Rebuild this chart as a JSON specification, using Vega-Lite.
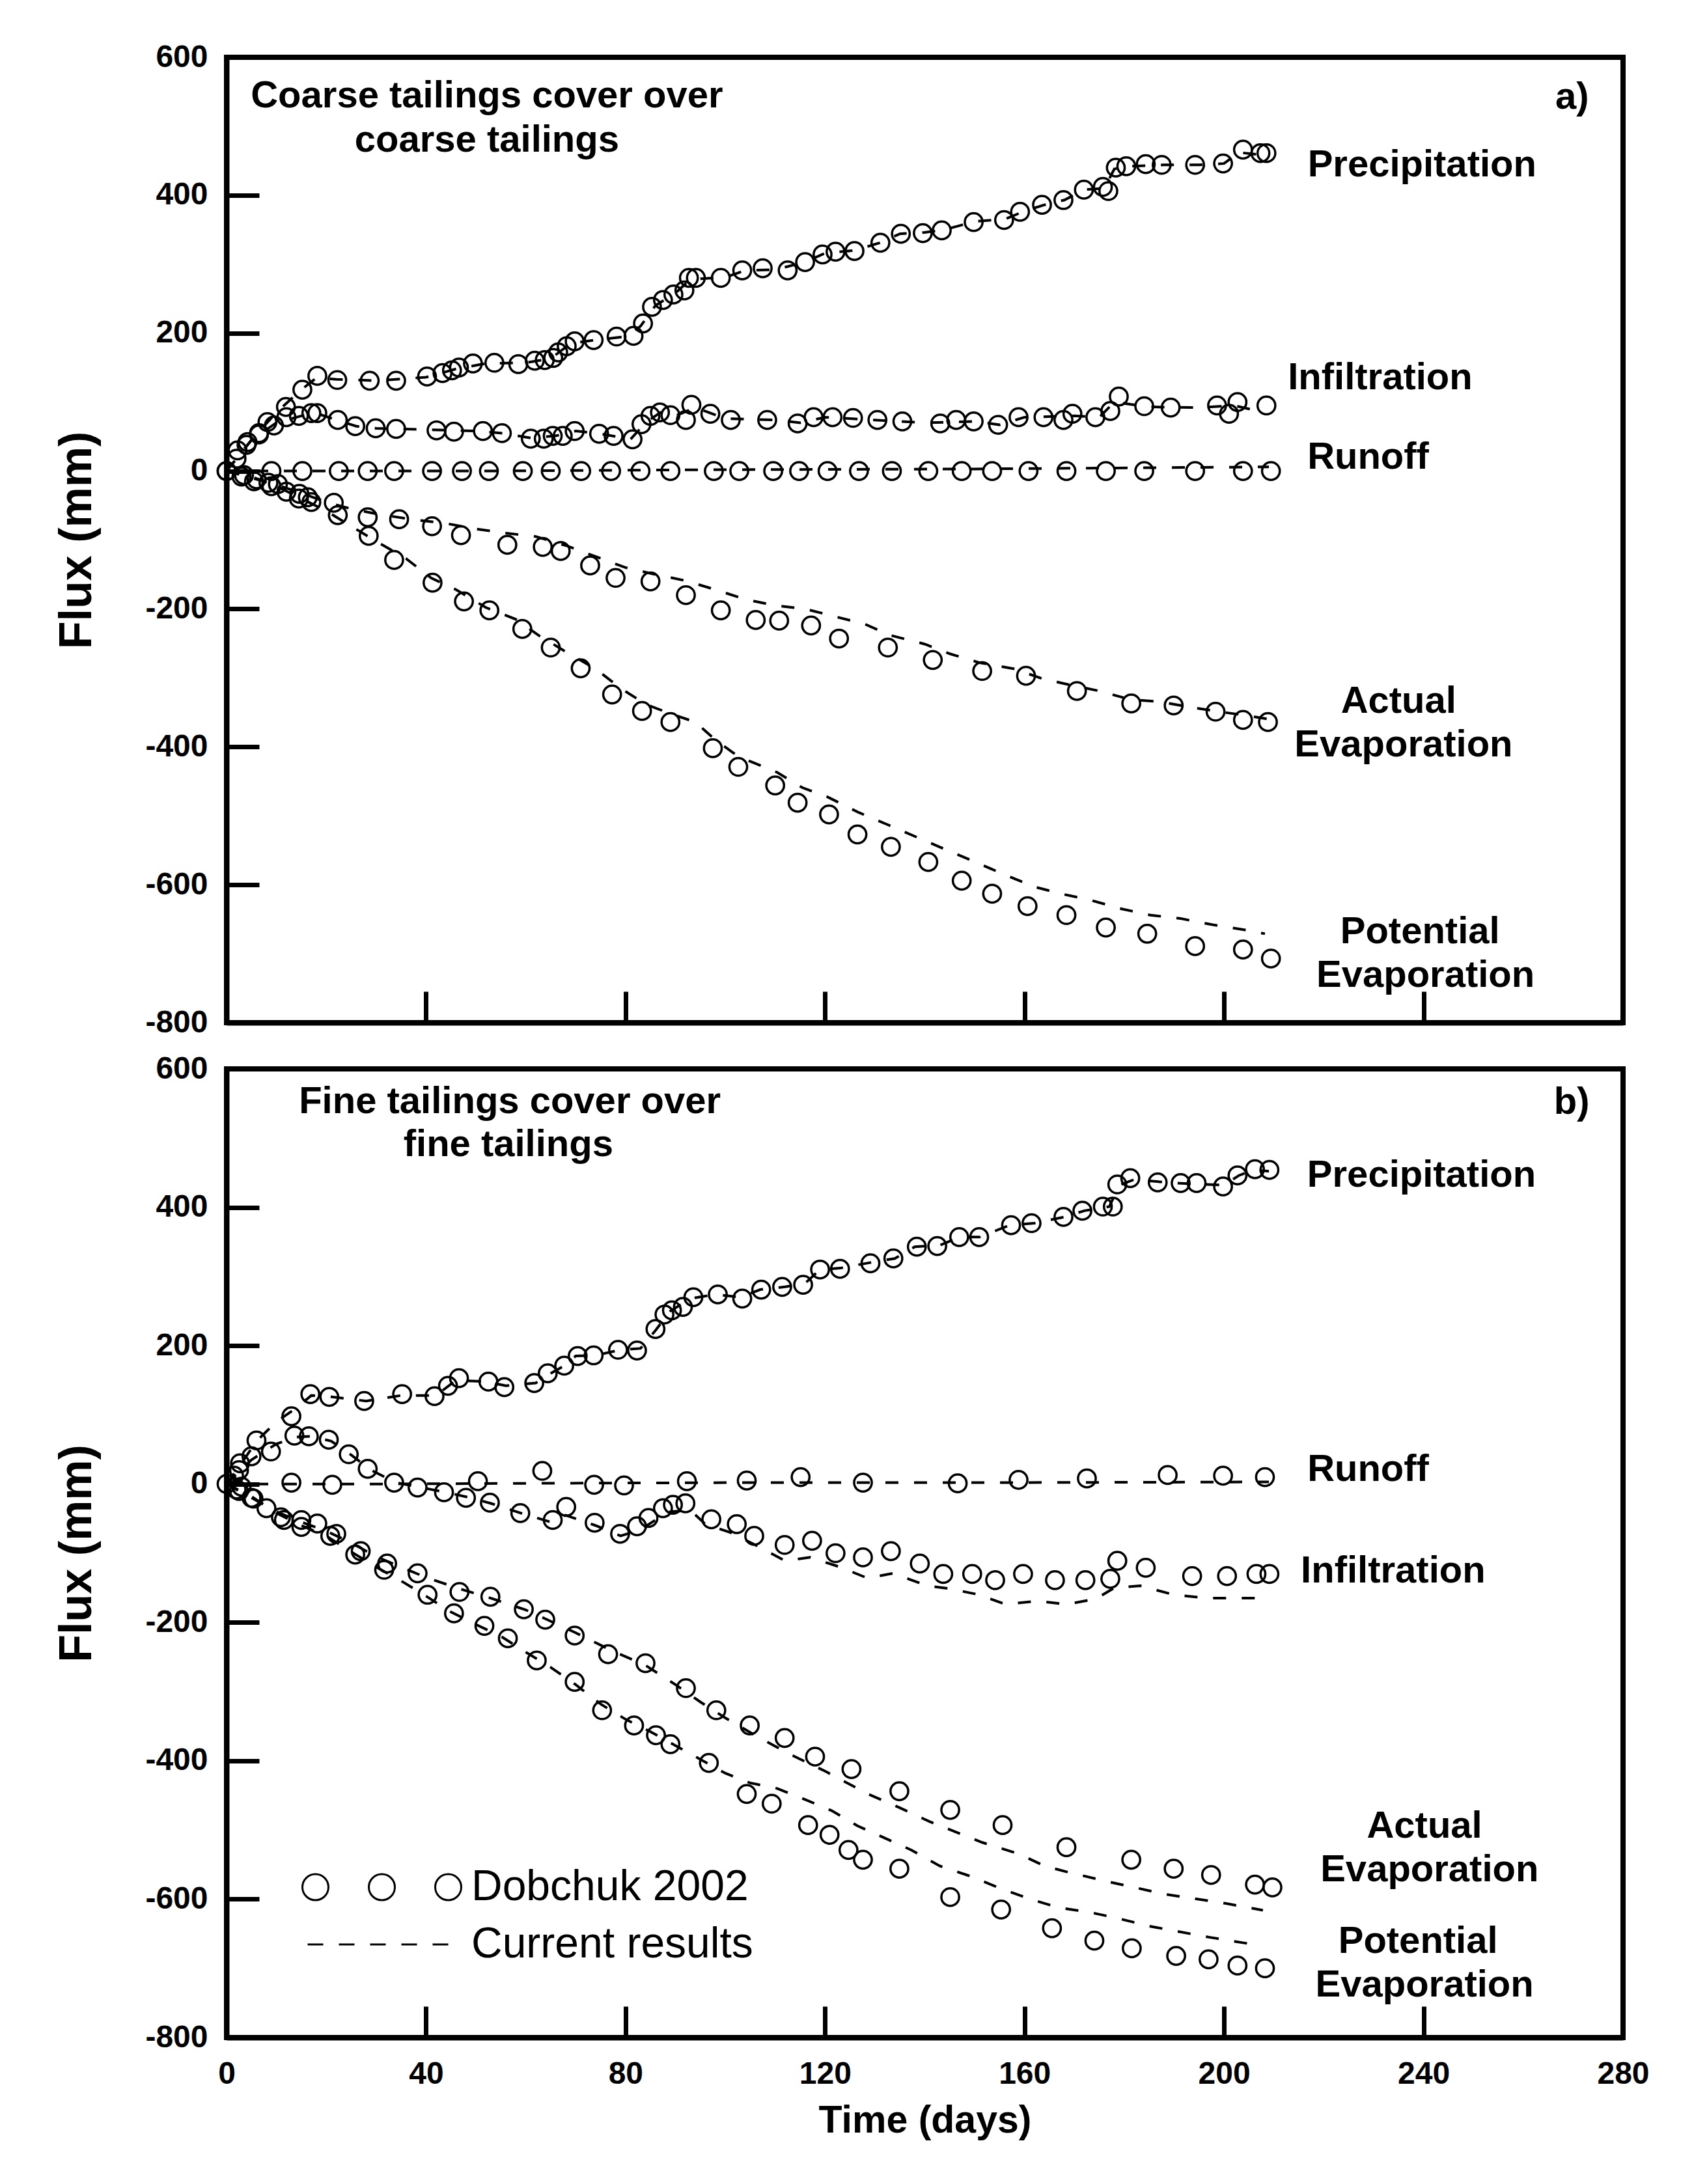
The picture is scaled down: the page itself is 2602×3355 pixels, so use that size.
{
  "$schema": "https://vega.github.io/schema/vega-lite/v6.json",
  "background": "white",
  "padding": {"left": 79, "top": 60, "right": 10, "bottom": 10},
  "spacing": 15,
  "config": {
    "view": {"stroke": "black", "strokeWidth": 8},
    "font": "Liberation Sans",
    "axis": {"grid": false, "domainColor": "black", "domainWidth": 8, "tickColor": "black", "tickWidth": 7, "labelFlush": false,
      "labelFont": "Liberation Sans", "labelFontWeight": "bold", "labelFontSize": 48, "labelColor": "black",
      "titleFont": "Liberation Sans", "titleFontWeight": "bold", "titleColor": "black"}
  },
  "datasets": {
    "obsA": [
      {"series":"Precipitation","day":0,"flux":0},{"series":"Precipitation","day":2.2,"flux":30},{"series":"Precipitation","day":4.2,"flux":42},{"series":"Precipitation","day":6.5,"flux":53},{"series":"Precipitation","day":8.2,"flux":71},{"series":"Precipitation","day":11.9,"flux":93},{"series":"Precipitation","day":15.2,"flux":118},{"series":"Precipitation","day":18.2,"flux":138},{"series":"Precipitation","day":22.2,"flux":132},{"series":"Precipitation","day":28.7,"flux":131},{"series":"Precipitation","day":34,"flux":131},{"series":"Precipitation","day":40.2,"flux":137},{"series":"Precipitation","day":43.3,"flux":142},{"series":"Precipitation","day":45.2,"flux":146},{"series":"Precipitation","day":46.6,"flux":150},{"series":"Precipitation","day":49.4,"flux":156},{"series":"Precipitation","day":53.7,"flux":157},{"series":"Precipitation","day":58.5,"flux":155},{"series":"Precipitation","day":61.8,"flux":160},{"series":"Precipitation","day":63.8,"flux":161},{"series":"Precipitation","day":65.5,"flux":164},{"series":"Precipitation","day":66.5,"flux":172},{"series":"Precipitation","day":68.2,"flux":181},{"series":"Precipitation","day":69.8,"flux":188},{"series":"Precipitation","day":73.6,"flux":190},{"series":"Precipitation","day":78.2,"flux":195},{"series":"Precipitation","day":81.6,"flux":196},{"series":"Precipitation","day":83.5,"flux":214},{"series":"Precipitation","day":85.3,"flux":238},{"series":"Precipitation","day":87.5,"flux":248},{"series":"Precipitation","day":89.6,"flux":256},{"series":"Precipitation","day":91.8,"flux":262},{"series":"Precipitation","day":92.7,"flux":280},{"series":"Precipitation","day":94.1,"flux":280},{"series":"Precipitation","day":99.1,"flux":280},{"series":"Precipitation","day":103.4,"flux":291},{"series":"Precipitation","day":107.5,"flux":294},{"series":"Precipitation","day":112.5,"flux":291},{"series":"Precipitation","day":116,"flux":303},{"series":"Precipitation","day":119.5,"flux":314},{"series":"Precipitation","day":122.1,"flux":318},{"series":"Precipitation","day":125.9,"flux":319},{"series":"Precipitation","day":131.1,"flux":331},{"series":"Precipitation","day":135.2,"flux":344},{"series":"Precipitation","day":139.6,"flux":345},{"series":"Precipitation","day":143.4,"flux":349},{"series":"Precipitation","day":149.8,"flux":361},{"series":"Precipitation","day":155.9,"flux":364},{"series":"Precipitation","day":159.1,"flux":376},{"series":"Precipitation","day":163.5,"flux":386},{"series":"Precipitation","day":167.8,"flux":393},{"series":"Precipitation","day":171.9,"flux":408},{"series":"Precipitation","day":175.7,"flux":412},{"series":"Precipitation","day":176.8,"flux":406},{"series":"Precipitation","day":178.3,"flux":440},{"series":"Precipitation","day":180.4,"flux":442},{"series":"Precipitation","day":184.3,"flux":445},{"series":"Precipitation","day":187.5,"flux":444},{"series":"Precipitation","day":194.2,"flux":444},{"series":"Precipitation","day":199.8,"flux":446},{"series":"Precipitation","day":203.8,"flux":466},{"series":"Precipitation","day":207.3,"flux":461},{"series":"Precipitation","day":208.5,"flux":461},
      {"series":"Infiltration","day":2,"flux":18},{"series":"Infiltration","day":4,"flux":38},{"series":"Infiltration","day":6.5,"flux":55},{"series":"Infiltration","day":9.5,"flux":66},{"series":"Infiltration","day":12,"flux":78},{"series":"Infiltration","day":14.5,"flux":80},{"series":"Infiltration","day":17,"flux":84},{"series":"Infiltration","day":18.2,"flux":84},{"series":"Infiltration","day":22.3,"flux":74},{"series":"Infiltration","day":25.8,"flux":65},{"series":"Infiltration","day":29.9,"flux":62},{"series":"Infiltration","day":34,"flux":61},{"series":"Infiltration","day":42.1,"flux":59},{"series":"Infiltration","day":45.6,"flux":57},{"series":"Infiltration","day":51.4,"flux":58},{"series":"Infiltration","day":55.2,"flux":55},{"series":"Infiltration","day":61,"flux":47},{"series":"Infiltration","day":63.6,"flux":47},{"series":"Infiltration","day":65.4,"flux":51},{"series":"Infiltration","day":67.4,"flux":51},{"series":"Infiltration","day":69.8,"flux":58},{"series":"Infiltration","day":74.7,"flux":54},{"series":"Infiltration","day":77.6,"flux":51},{"series":"Infiltration","day":81.4,"flux":46},{"series":"Infiltration","day":83.2,"flux":68},{"series":"Infiltration","day":85,"flux":80},{"series":"Infiltration","day":86.9,"flux":85},{"series":"Infiltration","day":89,"flux":81},{"series":"Infiltration","day":92.1,"flux":74},{"series":"Infiltration","day":93.2,"flux":96},{"series":"Infiltration","day":97,"flux":83},{"series":"Infiltration","day":101.1,"flux":74},{"series":"Infiltration","day":108.4,"flux":74},{"series":"Infiltration","day":114.5,"flux":69},{"series":"Infiltration","day":117.7,"flux":78},{"series":"Infiltration","day":121.5,"flux":78},{"series":"Infiltration","day":125.6,"flux":77},{"series":"Infiltration","day":130.5,"flux":74},{"series":"Infiltration","day":135.5,"flux":72},{"series":"Infiltration","day":143.1,"flux":69},{"series":"Infiltration","day":146.3,"flux":74},{"series":"Infiltration","day":149.8,"flux":72},{"series":"Infiltration","day":154.7,"flux":67},{"series":"Infiltration","day":158.8,"flux":78},{"series":"Infiltration","day":163.8,"flux":78},{"series":"Infiltration","day":167.8,"flux":74},{"series":"Infiltration","day":169.6,"flux":83},{"series":"Infiltration","day":174.2,"flux":78},{"series":"Infiltration","day":177.2,"flux":87},{"series":"Infiltration","day":178.9,"flux":108},{"series":"Infiltration","day":184,"flux":94},{"series":"Infiltration","day":189.3,"flux":92},{"series":"Infiltration","day":198.6,"flux":95},{"series":"Infiltration","day":201,"flux":83},{"series":"Infiltration","day":202.7,"flux":100},{"series":"Infiltration","day":208.5,"flux":95},
      {"series":"Runoff","day":0,"flux":0},{"series":"Runoff","day":9,"flux":0},{"series":"Runoff","day":15.2,"flux":0},{"series":"Runoff","day":22.5,"flux":0},{"series":"Runoff","day":28.3,"flux":0},{"series":"Runoff","day":33.6,"flux":0},{"series":"Runoff","day":41.2,"flux":0},{"series":"Runoff","day":47.2,"flux":0},{"series":"Runoff","day":52.6,"flux":0},{"series":"Runoff","day":59.4,"flux":0},{"series":"Runoff","day":65,"flux":0},{"series":"Runoff","day":71.1,"flux":0},{"series":"Runoff","day":77.1,"flux":0},{"series":"Runoff","day":83,"flux":0},{"series":"Runoff","day":89,"flux":0},{"series":"Runoff","day":97.7,"flux":0},{"series":"Runoff","day":102.8,"flux":0},{"series":"Runoff","day":109.6,"flux":0},{"series":"Runoff","day":114.8,"flux":0},{"series":"Runoff","day":120.5,"flux":0},{"series":"Runoff","day":126.8,"flux":0},{"series":"Runoff","day":133.4,"flux":0},{"series":"Runoff","day":140.7,"flux":0},{"series":"Runoff","day":147.4,"flux":0},{"series":"Runoff","day":153.5,"flux":0},{"series":"Runoff","day":160.8,"flux":0},{"series":"Runoff","day":168.4,"flux":0},{"series":"Runoff","day":176.3,"flux":0},{"series":"Runoff","day":184,"flux":0},{"series":"Runoff","day":194.2,"flux":0},{"series":"Runoff","day":203.8,"flux":0},{"series":"Runoff","day":209.4,"flux":0},
      {"series":"Actual Evaporation","day":3.5,"flux":-6},{"series":"Actual Evaporation","day":6,"flux":-12},{"series":"Actual Evaporation","day":8.4,"flux":-17},{"series":"Actual Evaporation","day":10.3,"flux":-19},{"series":"Actual Evaporation","day":14.6,"flux":-33},{"series":"Actual Evaporation","day":16.3,"flux":-38},{"series":"Actual Evaporation","day":21.5,"flux":-46},{"series":"Actual Evaporation","day":28.3,"flux":-67},{"series":"Actual Evaporation","day":34.6,"flux":-70},{"series":"Actual Evaporation","day":41.2,"flux":-80},{"series":"Actual Evaporation","day":47,"flux":-93},{"series":"Actual Evaporation","day":56.3,"flux":-107},{"series":"Actual Evaporation","day":63.4,"flux":-110},{"series":"Actual Evaporation","day":67,"flux":-116},{"series":"Actual Evaporation","day":72.9,"flux":-137},{"series":"Actual Evaporation","day":78,"flux":-155},{"series":"Actual Evaporation","day":85,"flux":-160},{"series":"Actual Evaporation","day":92.1,"flux":-180},{"series":"Actual Evaporation","day":99.1,"flux":-202},{"series":"Actual Evaporation","day":106.1,"flux":-216},{"series":"Actual Evaporation","day":110.8,"flux":-217},{"series":"Actual Evaporation","day":117.2,"flux":-224},{"series":"Actual Evaporation","day":122.8,"flux":-243},{"series":"Actual Evaporation","day":132.6,"flux":-256},{"series":"Actual Evaporation","day":141.6,"flux":-274},{"series":"Actual Evaporation","day":151.5,"flux":-290},{"series":"Actual Evaporation","day":160.3,"flux":-297},{"series":"Actual Evaporation","day":170.5,"flux":-319},{"series":"Actual Evaporation","day":181.4,"flux":-337},{"series":"Actual Evaporation","day":189.9,"flux":-340},{"series":"Actual Evaporation","day":198.3,"flux":-349},{"series":"Actual Evaporation","day":203.8,"flux":-361},{"series":"Actual Evaporation","day":208.8,"flux":-364},
      {"series":"Potential Evaporation","day":3,"flux":-8},{"series":"Potential Evaporation","day":5.5,"flux":-15},{"series":"Potential Evaporation","day":9,"flux":-22},{"series":"Potential Evaporation","day":12,"flux":-30},{"series":"Potential Evaporation","day":14.5,"flux":-40},{"series":"Potential Evaporation","day":17,"flux":-45},{"series":"Potential Evaporation","day":22.3,"flux":-64},{"series":"Potential Evaporation","day":28.5,"flux":-94},{"series":"Potential Evaporation","day":33.6,"flux":-129},{"series":"Potential Evaporation","day":41.3,"flux":-162},{"series":"Potential Evaporation","day":47.6,"flux":-189},{"series":"Potential Evaporation","day":52.7,"flux":-202},{"series":"Potential Evaporation","day":59.3,"flux":-229},{"series":"Potential Evaporation","day":65,"flux":-256},{"series":"Potential Evaporation","day":71,"flux":-286},{"series":"Potential Evaporation","day":77.3,"flux":-324},{"series":"Potential Evaporation","day":83.3,"flux":-348},{"series":"Potential Evaporation","day":89,"flux":-364},{"series":"Potential Evaporation","day":97.5,"flux":-402},{"series":"Potential Evaporation","day":102.6,"flux":-429},{"series":"Potential Evaporation","day":110,"flux":-456},{"series":"Potential Evaporation","day":114.5,"flux":-481},{"series":"Potential Evaporation","day":120.8,"flux":-498},{"series":"Potential Evaporation","day":126.5,"flux":-527},{"series":"Potential Evaporation","day":133.2,"flux":-545},{"series":"Potential Evaporation","day":140.7,"flux":-567},{"series":"Potential Evaporation","day":147.4,"flux":-594},{"series":"Potential Evaporation","day":153.5,"flux":-613},{"series":"Potential Evaporation","day":160.6,"flux":-631},{"series":"Potential Evaporation","day":168.4,"flux":-644},{"series":"Potential Evaporation","day":176.3,"flux":-662},{"series":"Potential Evaporation","day":184.6,"flux":-671},{"series":"Potential Evaporation","day":194.2,"flux":-689},{"series":"Potential Evaporation","day":203.8,"flux":-694},{"series":"Potential Evaporation","day":209.4,"flux":-707}
    ],
    "simA": [
      {"series":"Precipitation","day":0,"flux":0},{"series":"Precipitation","day":5,"flux":45},{"series":"Precipitation","day":10,"flux":85},{"series":"Precipitation","day":15,"flux":118},{"series":"Precipitation","day":18,"flux":135},{"series":"Precipitation","day":22,"flux":133},{"series":"Precipitation","day":30,"flux":131},{"series":"Precipitation","day":40,"flux":136},{"series":"Precipitation","day":46,"flux":148},{"series":"Precipitation","day":52,"flux":156},{"series":"Precipitation","day":60,"flux":157},{"series":"Precipitation","day":65,"flux":163},{"series":"Precipitation","day":69,"flux":185},{"series":"Precipitation","day":74,"flux":190},{"series":"Precipitation","day":80,"flux":195},{"series":"Precipitation","day":83,"flux":210},{"series":"Precipitation","day":86,"flux":240},{"series":"Precipitation","day":90,"flux":258},{"series":"Precipitation","day":93,"flux":278},{"series":"Precipitation","day":100,"flux":281},{"series":"Precipitation","day":104,"flux":291},{"series":"Precipitation","day":110,"flux":292},{"series":"Precipitation","day":116,"flux":303},{"series":"Precipitation","day":120,"flux":316},{"series":"Precipitation","day":126,"flux":320},{"series":"Precipitation","day":131,"flux":331},{"series":"Precipitation","day":135,"flux":344},{"series":"Precipitation","day":140,"flux":346},{"series":"Precipitation","day":144,"flux":350},{"series":"Precipitation","day":150,"flux":362},{"series":"Precipitation","day":156,"flux":365},{"series":"Precipitation","day":160,"flux":377},{"series":"Precipitation","day":164,"flux":386},{"series":"Precipitation","day":168,"flux":393},{"series":"Precipitation","day":172,"flux":408},{"series":"Precipitation","day":176,"flux":410},{"series":"Precipitation","day":178,"flux":438},{"series":"Precipitation","day":181,"flux":442},{"series":"Precipitation","day":188,"flux":444},{"series":"Precipitation","day":195,"flux":444},{"series":"Precipitation","day":200,"flux":446},{"series":"Precipitation","day":203,"flux":462},{"series":"Precipitation","day":208,"flux":458},
      {"series":"Infiltration","day":0,"flux":0},{"series":"Infiltration","day":5,"flux":45},{"series":"Infiltration","day":10,"flux":70},{"series":"Infiltration","day":15,"flux":80},{"series":"Infiltration","day":18,"flux":84},{"series":"Infiltration","day":22,"flux":74},{"series":"Infiltration","day":26,"flux":65},{"series":"Infiltration","day":30,"flux":62},{"series":"Infiltration","day":40,"flux":60},{"series":"Infiltration","day":50,"flux":58},{"series":"Infiltration","day":55,"flux":55},{"series":"Infiltration","day":61,"flux":48},{"series":"Infiltration","day":66,"flux":51},{"series":"Infiltration","day":70,"flux":58},{"series":"Infiltration","day":75,"flux":54},{"series":"Infiltration","day":81,"flux":46},{"series":"Infiltration","day":84,"flux":70},{"series":"Infiltration","day":87,"flux":85},{"series":"Infiltration","day":90,"flux":80},{"series":"Infiltration","day":94,"flux":92},{"series":"Infiltration","day":100,"flux":76},{"series":"Infiltration","day":110,"flux":74},{"series":"Infiltration","day":115,"flux":70},{"series":"Infiltration","day":120,"flux":78},{"series":"Infiltration","day":130,"flux":74},{"series":"Infiltration","day":140,"flux":70},{"series":"Infiltration","day":150,"flux":72},{"series":"Infiltration","day":155,"flux":67},{"series":"Infiltration","day":160,"flux":78},{"series":"Infiltration","day":170,"flux":80},{"series":"Infiltration","day":175,"flux":78},{"series":"Infiltration","day":178,"flux":100},{"series":"Infiltration","day":185,"flux":93},{"series":"Infiltration","day":195,"flux":92},{"series":"Infiltration","day":202,"flux":95},{"series":"Infiltration","day":208,"flux":85},
      {"series":"Runoff","day":0,"flux":0},{"series":"Runoff","day":50,"flux":0},{"series":"Runoff","day":100,"flux":2},{"series":"Runoff","day":150,"flux":3},{"series":"Runoff","day":209,"flux":6},
      {"series":"Actual Evaporation","day":0,"flux":0},{"series":"Actual Evaporation","day":5,"flux":-10},{"series":"Actual Evaporation","day":10,"flux":-20},{"series":"Actual Evaporation","day":15,"flux":-32},{"series":"Actual Evaporation","day":20,"flux":-45},{"series":"Actual Evaporation","day":25,"flux":-55},{"series":"Actual Evaporation","day":30,"flux":-62},{"series":"Actual Evaporation","day":37,"flux":-70},{"series":"Actual Evaporation","day":44,"flux":-76},{"series":"Actual Evaporation","day":50,"flux":-84},{"series":"Actual Evaporation","day":56,"flux":-90},{"series":"Actual Evaporation","day":62,"flux":-95},{"series":"Actual Evaporation","day":68,"flux":-108},{"series":"Actual Evaporation","day":74,"flux":-124},{"series":"Actual Evaporation","day":80,"flux":-140},{"series":"Actual Evaporation","day":86,"flux":-150},{"series":"Actual Evaporation","day":92,"flux":-159},{"series":"Actual Evaporation","day":98,"flux":-172},{"series":"Actual Evaporation","day":104,"flux":-186},{"series":"Actual Evaporation","day":110,"flux":-195},{"series":"Actual Evaporation","day":116,"flux":-200},{"series":"Actual Evaporation","day":122,"flux":-211},{"series":"Actual Evaporation","day":128,"flux":-222},{"series":"Actual Evaporation","day":133,"flux":-238},{"series":"Actual Evaporation","day":140,"flux":-251},{"series":"Actual Evaporation","day":145,"flux":-265},{"series":"Actual Evaporation","day":151,"flux":-278},{"series":"Actual Evaporation","day":158,"flux":-287},{"series":"Actual Evaporation","day":163.5,"flux":-301},{"series":"Actual Evaporation","day":169,"flux":-310},{"series":"Actual Evaporation","day":175,"flux":-319},{"series":"Actual Evaporation","day":181,"flux":-331},{"series":"Actual Evaporation","day":187.5,"flux":-335},{"series":"Actual Evaporation","day":193.6,"flux":-343},{"series":"Actual Evaporation","day":200,"flux":-350},{"series":"Actual Evaporation","day":205,"flux":-355},{"series":"Actual Evaporation","day":209,"flux":-360},
      {"series":"Potential Evaporation","day":0,"flux":0},{"series":"Potential Evaporation","day":5,"flux":-8},{"series":"Potential Evaporation","day":10,"flux":-22},{"series":"Potential Evaporation","day":15,"flux":-40},{"series":"Potential Evaporation","day":20,"flux":-58},{"series":"Potential Evaporation","day":25,"flux":-80},{"series":"Potential Evaporation","day":30,"flux":-102},{"series":"Potential Evaporation","day":36,"flux":-127},{"series":"Potential Evaporation","day":41,"flux":-155},{"series":"Potential Evaporation","day":46,"flux":-172},{"series":"Potential Evaporation","day":52,"flux":-198},{"series":"Potential Evaporation","day":58,"flux":-215},{"series":"Potential Evaporation","day":62.5,"flux":-238},{"series":"Potential Evaporation","day":68,"flux":-262},{"series":"Potential Evaporation","day":74,"flux":-287},{"series":"Potential Evaporation","day":79,"flux":-315},{"series":"Potential Evaporation","day":84,"flux":-338},{"series":"Potential Evaporation","day":89,"flux":-352},{"series":"Potential Evaporation","day":94,"flux":-364},{"series":"Potential Evaporation","day":98,"flux":-390},{"series":"Potential Evaporation","day":102.6,"flux":-414},{"series":"Potential Evaporation","day":110.4,"flux":-437},{"series":"Potential Evaporation","day":115.4,"flux":-459},{"series":"Potential Evaporation","day":120.6,"flux":-473},{"series":"Potential Evaporation","day":126.7,"flux":-495},{"series":"Potential Evaporation","day":132.6,"flux":-513},{"series":"Potential Evaporation","day":138.4,"flux":-531},{"series":"Potential Evaporation","day":144.2,"flux":-549},{"series":"Potential Evaporation","day":150.1,"flux":-567},{"series":"Potential Evaporation","day":155.9,"flux":-585},{"series":"Potential Evaporation","day":162,"flux":-603},{"series":"Potential Evaporation","day":167.3,"flux":-613},{"series":"Potential Evaporation","day":173.1,"flux":-622},{"series":"Potential Evaporation","day":179.5,"flux":-635},{"series":"Potential Evaporation","day":185.2,"flux":-644},{"series":"Potential Evaporation","day":191.3,"flux":-649},{"series":"Potential Evaporation","day":197.7,"flux":-658},{"series":"Potential Evaporation","day":203.8,"flux":-665},{"series":"Potential Evaporation","day":208.2,"flux":-671}
    ],
    "obsB": [
      {"series":"Precipitation","day":0,"flux":0},{"series":"Precipitation","day":1.5,"flux":12},{"series":"Precipitation","day":2.7,"flux":30},{"series":"Precipitation","day":6,"flux":63},{"series":"Precipitation","day":13,"flux":98},{"series":"Precipitation","day":16.8,"flux":130},{"series":"Precipitation","day":20.6,"flux":126},{"series":"Precipitation","day":27.6,"flux":120},{"series":"Precipitation","day":35.2,"flux":130},{"series":"Precipitation","day":41.7,"flux":127},{"series":"Precipitation","day":44.4,"flux":142},{"series":"Precipitation","day":46.6,"flux":153},{"series":"Precipitation","day":52.5,"flux":148},{"series":"Precipitation","day":55.7,"flux":140},{"series":"Precipitation","day":61.7,"flux":146},{"series":"Precipitation","day":64.4,"flux":160},{"series":"Precipitation","day":67.7,"flux":171},{"series":"Precipitation","day":70.4,"flux":185},{"series":"Precipitation","day":73.6,"flux":186},{"series":"Precipitation","day":78.5,"flux":194},{"series":"Precipitation","day":82.3,"flux":193},{"series":"Precipitation","day":86,"flux":224},{"series":"Precipitation","day":87.8,"flux":245},{"series":"Precipitation","day":89.3,"flux":251},{"series":"Precipitation","day":91.5,"flux":256},{"series":"Precipitation","day":93.6,"flux":270},{"series":"Precipitation","day":98.5,"flux":274},{"series":"Precipitation","day":103.4,"flux":268},{"series":"Precipitation","day":107.2,"flux":281},{"series":"Precipitation","day":111.4,"flux":285},{"series":"Precipitation","day":115.6,"flux":288},{"series":"Precipitation","day":119,"flux":310},{"series":"Precipitation","day":123,"flux":311},{"series":"Precipitation","day":129.1,"flux":319},{"series":"Precipitation","day":133.7,"flux":326},{"series":"Precipitation","day":138.4,"flux":343},{"series":"Precipitation","day":142.5,"flux":344},{"series":"Precipitation","day":146.9,"flux":357},{"series":"Precipitation","day":150.9,"flux":357},{"series":"Precipitation","day":157.3,"flux":374},{"series":"Precipitation","day":161.4,"flux":377},{"series":"Precipitation","day":167.8,"flux":386},{"series":"Precipitation","day":171.6,"flux":395},{"series":"Precipitation","day":175.7,"flux":401},{"series":"Precipitation","day":177.7,"flux":401},{"series":"Precipitation","day":178.6,"flux":433},{"series":"Precipitation","day":181.2,"flux":442},{"series":"Precipitation","day":186.7,"flux":436},{"series":"Precipitation","day":191.3,"flux":435},{"series":"Precipitation","day":194.5,"flux":435},{"series":"Precipitation","day":199.8,"flux":430},{"series":"Precipitation","day":202.7,"flux":446},{"series":"Precipitation","day":206.2,"flux":455},{"series":"Precipitation","day":209.1,"flux":454},
      {"series":"Runoff","day":3,"flux":-4},{"series":"Runoff","day":13,"flux":2},{"series":"Runoff","day":21.2,"flux":-1},{"series":"Runoff","day":50.4,"flux":4},{"series":"Runoff","day":63.3,"flux":19},{"series":"Runoff","day":73.7,"flux":-1},{"series":"Runoff","day":79.7,"flux":-2},{"series":"Runoff","day":92.3,"flux":4},{"series":"Runoff","day":104.3,"flux":5},{"series":"Runoff","day":115.1,"flux":10},{"series":"Runoff","day":127.6,"flux":2},{"series":"Runoff","day":146.6,"flux":1},{"series":"Runoff","day":158.8,"flux":6},{"series":"Runoff","day":172.5,"flux":8},{"series":"Runoff","day":188.7,"flux":13},{"series":"Runoff","day":199.8,"flux":12},{"series":"Runoff","day":208.2,"flux":10},
      {"series":"Infiltration","day":2.5,"flux":20},{"series":"Infiltration","day":5,"flux":40},{"series":"Infiltration","day":8.9,"flux":47},{"series":"Infiltration","day":13.6,"flux":70},{"series":"Infiltration","day":16.5,"flux":69},{"series":"Infiltration","day":20.5,"flux":64},{"series":"Infiltration","day":24.5,"flux":43},{"series":"Infiltration","day":28.3,"flux":22},{"series":"Infiltration","day":33.6,"flux":2},{"series":"Infiltration","day":38.3,"flux":-5},{"series":"Infiltration","day":43.6,"flux":-12},{"series":"Infiltration","day":48,"flux":-20},{"series":"Infiltration","day":52.8,"flux":-27},{"series":"Infiltration","day":58.9,"flux":-42},{"series":"Infiltration","day":65.4,"flux":-52},{"series":"Infiltration","day":68.1,"flux":-33},{"series":"Infiltration","day":73.8,"flux":-56},{"series":"Infiltration","day":78.9,"flux":-72},{"series":"Infiltration","day":82.3,"flux":-61},{"series":"Infiltration","day":84.6,"flux":-49},{"series":"Infiltration","day":87.5,"flux":-35},{"series":"Infiltration","day":89.5,"flux":-30},{"series":"Infiltration","day":92,"flux":-28},{"series":"Infiltration","day":97.2,"flux":-51},{"series":"Infiltration","day":102.3,"flux":-58},{"series":"Infiltration","day":105.8,"flux":-75},{"series":"Infiltration","day":111.9,"flux":-88},{"series":"Infiltration","day":117.4,"flux":-82},{"series":"Infiltration","day":122.1,"flux":-100},{"series":"Infiltration","day":127.6,"flux":-106},{"series":"Infiltration","day":133.2,"flux":-97},{"series":"Infiltration","day":139,"flux":-115},{"series":"Infiltration","day":143.7,"flux":-130},{"series":"Infiltration","day":149.5,"flux":-130},{"series":"Infiltration","day":154.1,"flux":-139},{"series":"Infiltration","day":159.7,"flux":-130},{"series":"Infiltration","day":166.1,"flux":-139},{"series":"Infiltration","day":172.2,"flux":-139},{"series":"Infiltration","day":177.2,"flux":-137},{"series":"Infiltration","day":178.6,"flux":-111},{"series":"Infiltration","day":184.3,"flux":-121},{"series":"Infiltration","day":193.6,"flux":-133},{"series":"Infiltration","day":200.6,"flux":-133},{"series":"Infiltration","day":206.5,"flux":-130},{"series":"Infiltration","day":209.1,"flux":-130},
      {"series":"Actual Evaporation","day":2.5,"flux":-10},{"series":"Actual Evaporation","day":5,"flux":-20},{"series":"Actual Evaporation","day":8,"flux":-35},{"series":"Actual Evaporation","day":10.9,"flux":-48},{"series":"Actual Evaporation","day":15,"flux":-52},{"series":"Actual Evaporation","day":18.2,"flux":-57},{"series":"Actual Evaporation","day":22,"flux":-72},{"series":"Actual Evaporation","day":26.9,"flux":-97},{"series":"Actual Evaporation","day":32.2,"flux":-115},{"series":"Actual Evaporation","day":38.3,"flux":-129},{"series":"Actual Evaporation","day":46.7,"flux":-156},{"series":"Actual Evaporation","day":52.9,"flux":-163},{"series":"Actual Evaporation","day":59.6,"flux":-181},{"series":"Actual Evaporation","day":63.9,"flux":-196},{"series":"Actual Evaporation","day":69.8,"flux":-219},{"series":"Actual Evaporation","day":76.5,"flux":-246},{"series":"Actual Evaporation","day":84,"flux":-259},{"series":"Actual Evaporation","day":92.1,"flux":-295},{"series":"Actual Evaporation","day":98.2,"flux":-327},{"series":"Actual Evaporation","day":104.9,"flux":-349},{"series":"Actual Evaporation","day":111.9,"flux":-367},{"series":"Actual Evaporation","day":118,"flux":-394},{"series":"Actual Evaporation","day":125.3,"flux":-412},{"series":"Actual Evaporation","day":134.9,"flux":-444},{"series":"Actual Evaporation","day":145.1,"flux":-471},{"series":"Actual Evaporation","day":155.6,"flux":-493},{"series":"Actual Evaporation","day":168.4,"flux":-525},{"series":"Actual Evaporation","day":181.4,"flux":-543},{"series":"Actual Evaporation","day":189.9,"flux":-556},{"series":"Actual Evaporation","day":197.4,"flux":-565},{"series":"Actual Evaporation","day":206.2,"flux":-579},{"series":"Actual Evaporation","day":209.7,"flux":-583},
      {"series":"Potential Evaporation","day":2,"flux":-8},{"series":"Potential Evaporation","day":5.4,"flux":-21},{"series":"Potential Evaporation","day":11.5,"flux":-52},{"series":"Potential Evaporation","day":15,"flux":-62},{"series":"Potential Evaporation","day":20.8,"flux":-75},{"series":"Potential Evaporation","day":25.8,"flux":-102},{"series":"Potential Evaporation","day":31.6,"flux":-124},{"series":"Potential Evaporation","day":40.3,"flux":-160},{"series":"Potential Evaporation","day":45.6,"flux":-187},{"series":"Potential Evaporation","day":51.7,"flux":-205},{"series":"Potential Evaporation","day":56.4,"flux":-223},{"series":"Potential Evaporation","day":62.2,"flux":-255},{"series":"Potential Evaporation","day":69.8,"flux":-286},{"series":"Potential Evaporation","day":75.3,"flux":-327},{"series":"Potential Evaporation","day":81.7,"flux":-349},{"series":"Potential Evaporation","day":86.1,"flux":-363},{"series":"Potential Evaporation","day":89,"flux":-376},{"series":"Potential Evaporation","day":96.7,"flux":-403},{"series":"Potential Evaporation","day":104.3,"flux":-448},{"series":"Potential Evaporation","day":109.3,"flux":-462},{"series":"Potential Evaporation","day":116.6,"flux":-493},{"series":"Potential Evaporation","day":120.9,"flux":-507},{"series":"Potential Evaporation","day":124.7,"flux":-529},{"series":"Potential Evaporation","day":127.6,"flux":-543},{"series":"Potential Evaporation","day":134.9,"flux":-556},{"series":"Potential Evaporation","day":145.1,"flux":-597},{"series":"Potential Evaporation","day":155.3,"flux":-615},{"series":"Potential Evaporation","day":165.5,"flux":-642},{"series":"Potential Evaporation","day":174,"flux":-660},{"series":"Potential Evaporation","day":181.5,"flux":-671},{"series":"Potential Evaporation","day":190.4,"flux":-682},{"series":"Potential Evaporation","day":196.9,"flux":-687},{"series":"Potential Evaporation","day":202.7,"flux":-696},{"series":"Potential Evaporation","day":208.2,"flux":-700}
    ],
    "simB": [
      {"series":"Precipitation","day":0,"flux":0},{"series":"Precipitation","day":3,"flux":30},{"series":"Precipitation","day":6,"flux":62},{"series":"Precipitation","day":10,"flux":90},{"series":"Precipitation","day":14,"flux":110},{"series":"Precipitation","day":17,"flux":128},{"series":"Precipitation","day":21,"flux":126},{"series":"Precipitation","day":28,"flux":120},{"series":"Precipitation","day":35,"flux":128},{"series":"Precipitation","day":42,"flux":128},{"series":"Precipitation","day":46,"flux":150},{"series":"Precipitation","day":52,"flux":148},{"series":"Precipitation","day":56,"flux":142},{"series":"Precipitation","day":62,"flux":146},{"series":"Precipitation","day":65,"flux":160},{"series":"Precipitation","day":68,"flux":172},{"series":"Precipitation","day":70,"flux":185},{"series":"Precipitation","day":74,"flux":186},{"series":"Precipitation","day":79,"flux":194},{"series":"Precipitation","day":83,"flux":196},{"series":"Precipitation","day":86,"flux":222},{"series":"Precipitation","day":89,"flux":250},{"series":"Precipitation","day":93,"flux":268},{"series":"Precipitation","day":98,"flux":274},{"series":"Precipitation","day":103,"flux":270},{"series":"Precipitation","day":107,"flux":281},{"series":"Precipitation","day":112,"flux":285},{"series":"Precipitation","day":116,"flux":290},{"series":"Precipitation","day":119,"flux":310},{"series":"Precipitation","day":123,"flux":312},{"series":"Precipitation","day":129,"flux":320},{"series":"Precipitation","day":134,"flux":326},{"series":"Precipitation","day":138,"flux":343},{"series":"Precipitation","day":143,"flux":345},{"series":"Precipitation","day":147,"flux":357},{"series":"Precipitation","day":151,"flux":357},{"series":"Precipitation","day":157,"flux":374},{"series":"Precipitation","day":162,"flux":377},{"series":"Precipitation","day":168,"flux":386},{"series":"Precipitation","day":172,"flux":395},{"series":"Precipitation","day":177,"flux":401},{"series":"Precipitation","day":179,"flux":432},{"series":"Precipitation","day":182,"flux":440},{"series":"Precipitation","day":190,"flux":435},{"series":"Precipitation","day":200,"flux":432},{"series":"Precipitation","day":203,"flux":446},{"series":"Precipitation","day":206,"flux":454},{"series":"Precipitation","day":209,"flux":452},
      {"series":"Runoff","day":0,"flux":0},{"series":"Runoff","day":30,"flux":0},{"series":"Runoff","day":60,"flux":1},{"series":"Runoff","day":100,"flux":2},{"series":"Runoff","day":150,"flux":2},{"series":"Runoff","day":209,"flux":3},
      {"series":"Infiltration","day":0,"flux":0},{"series":"Infiltration","day":5,"flux":35},{"series":"Infiltration","day":10,"flux":58},{"series":"Infiltration","day":14,"flux":68},{"series":"Infiltration","day":17,"flux":69},{"series":"Infiltration","day":21,"flux":62},{"series":"Infiltration","day":25,"flux":42},{"series":"Infiltration","day":29,"flux":20},{"series":"Infiltration","day":34,"flux":2},{"series":"Infiltration","day":39,"flux":-5},{"series":"Infiltration","day":44,"flux":-12},{"series":"Infiltration","day":49,"flux":-20},{"series":"Infiltration","day":53,"flux":-28},{"series":"Infiltration","day":59,"flux":-42},{"series":"Infiltration","day":65,"flux":-55},{"series":"Infiltration","day":68,"flux":-45},{"series":"Infiltration","day":74,"flux":-60},{"series":"Infiltration","day":79,"flux":-75},{"series":"Infiltration","day":83,"flux":-66},{"series":"Infiltration","day":86,"flux":-52},{"series":"Infiltration","day":89,"flux":-40},{"series":"Infiltration","day":93,"flux":-38},{"series":"Infiltration","day":96,"flux":-58},{"series":"Infiltration","day":101,"flux":-70},{"series":"Infiltration","day":106,"flux":-88},{"series":"Infiltration","day":112,"flux":-111},{"series":"Infiltration","day":117,"flux":-106},{"series":"Infiltration","day":123,"flux":-120},{"series":"Infiltration","day":128.5,"flux":-136},{"series":"Infiltration","day":133.7,"flux":-129},{"series":"Infiltration","day":140.4,"flux":-147},{"series":"Infiltration","day":144.8,"flux":-151},{"series":"Infiltration","day":150.9,"flux":-160},{"series":"Infiltration","day":156.2,"flux":-174},{"series":"Infiltration","day":162.6,"flux":-169},{"series":"Infiltration","day":168.4,"flux":-174},{"series":"Infiltration","day":174.3,"flux":-166},{"series":"Infiltration","day":178,"flux":-150},{"series":"Infiltration","day":183.2,"flux":-147},{"series":"Infiltration","day":189.9,"flux":-160},{"series":"Infiltration","day":196.6,"flux":-165},{"series":"Infiltration","day":201.5,"flux":-165},{"series":"Infiltration","day":207,"flux":-165},{"series":"Infiltration","day":209,"flux":-168},
      {"series":"Actual Evaporation","day":0,"flux":0},{"series":"Actual Evaporation","day":5,"flux":-20},{"series":"Actual Evaporation","day":10,"flux":-40},{"series":"Actual Evaporation","day":15,"flux":-55},{"series":"Actual Evaporation","day":20,"flux":-68},{"series":"Actual Evaporation","day":25,"flux":-85},{"series":"Actual Evaporation","day":30,"flux":-105},{"series":"Actual Evaporation","day":35,"flux":-120},{"series":"Actual Evaporation","day":40,"flux":-135},{"series":"Actual Evaporation","day":47,"flux":-152},{"series":"Actual Evaporation","day":53,"flux":-165},{"series":"Actual Evaporation","day":60,"flux":-182},{"series":"Actual Evaporation","day":64,"flux":-195},{"series":"Actual Evaporation","day":70,"flux":-215},{"series":"Actual Evaporation","day":77,"flux":-240},{"series":"Actual Evaporation","day":84,"flux":-262},{"series":"Actual Evaporation","day":90,"flux":-290},{"series":"Actual Evaporation","day":95,"flux":-315},{"series":"Actual Evaporation","day":100,"flux":-338},{"series":"Actual Evaporation","day":106.9,"flux":-367},{"series":"Actual Evaporation","day":112.8,"flux":-390},{"series":"Actual Evaporation","day":120,"flux":-415},{"series":"Actual Evaporation","day":128.6,"flux":-448},{"series":"Actual Evaporation","day":135,"flux":-468},{"series":"Actual Evaporation","day":141,"flux":-488},{"series":"Actual Evaporation","day":151.5,"flux":-518},{"series":"Actual Evaporation","day":159,"flux":-535},{"series":"Actual Evaporation","day":164,"flux":-552},{"series":"Actual Evaporation","day":168.7,"flux":-561},{"series":"Actual Evaporation","day":176.3,"flux":-574},{"series":"Actual Evaporation","day":188.3,"flux":-593},{"series":"Actual Evaporation","day":200.2,"flux":-606},{"series":"Actual Evaporation","day":207.8,"flux":-616},
      {"series":"Potential Evaporation","day":0,"flux":0},{"series":"Potential Evaporation","day":5,"flux":-18},{"series":"Potential Evaporation","day":10,"flux":-42},{"series":"Potential Evaporation","day":15,"flux":-60},{"series":"Potential Evaporation","day":20,"flux":-75},{"series":"Potential Evaporation","day":25,"flux":-98},{"series":"Potential Evaporation","day":30,"flux":-120},{"series":"Potential Evaporation","day":35,"flux":-140},{"series":"Potential Evaporation","day":40,"flux":-162},{"series":"Potential Evaporation","day":45,"flux":-185},{"series":"Potential Evaporation","day":50,"flux":-203},{"series":"Potential Evaporation","day":55,"flux":-220},{"series":"Potential Evaporation","day":60,"flux":-243},{"series":"Potential Evaporation","day":65,"flux":-265},{"series":"Potential Evaporation","day":70,"flux":-290},{"series":"Potential Evaporation","day":75,"flux":-318},{"series":"Potential Evaporation","day":80,"flux":-340},{"series":"Potential Evaporation","day":85,"flux":-358},{"series":"Potential Evaporation","day":90,"flux":-378},{"series":"Potential Evaporation","day":95,"flux":-398},{"series":"Potential Evaporation","day":100,"flux":-418},{"series":"Potential Evaporation","day":105,"flux":-432},{"series":"Potential Evaporation","day":110.4,"flux":-440},{"series":"Potential Evaporation","day":116,"flux":-456},{"series":"Potential Evaporation","day":121.3,"flux":-472},{"series":"Potential Evaporation","day":126.5,"flux":-494},{"series":"Potential Evaporation","day":137.3,"flux":-529},{"series":"Potential Evaporation","day":143,"flux":-552},{"series":"Potential Evaporation","day":149.2,"flux":-567},{"series":"Potential Evaporation","day":155,"flux":-584},{"series":"Potential Evaporation","day":161.2,"flux":-600},{"series":"Potential Evaporation","day":166.7,"flux":-612},{"series":"Potential Evaporation","day":173.1,"flux":-619},{"series":"Potential Evaporation","day":178.9,"flux":-628},{"series":"Potential Evaporation","day":185,"flux":-639},{"series":"Potential Evaporation","day":197,"flux":-655},{"series":"Potential Evaporation","day":207.2,"flux":-667}
    ],
    "labelsA": [
      {"label":"Coarse tailings cover over","day":52.2,"flux":527},
      {"label":"coarse tailings","day":52.2,"flux":463},
      {"label":"a)","day":269.8,"flux":525},
      {"label":"Precipitation","day":239.7,"flux":427},
      {"label":"Infiltration","day":231.3,"flux":119},
      {"label":"Runoff","day":228.9,"flux":3},
      {"label":"Actual","day":235.0,"flux":-351},
      {"label":"Evaporation","day":236.0,"flux":-414},
      {"label":"Potential","day":239.3,"flux":-685},
      {"label":"Evaporation","day":240.4,"flux":-748}
    ],
    "labelsB": [
      {"label":"Fine tailings cover over","day":56.8,"flux":536},
      {"label":"fine tailings","day":56.5,"flux":474},
      {"label":"b)","day":269.7,"flux":535},
      {"label":"Precipitation","day":239.6,"flux":430},
      {"label":"Runoff","day":228.9,"flux":4},
      {"label":"Infiltration","day":233.9,"flux":-142},
      {"label":"Actual","day":240.2,"flux":-511},
      {"label":"Evaporation","day":241.2,"flux":-574},
      {"label":"Potential","day":238.9,"flux":-678},
      {"label":"Evaporation","day":240.2,"flux":-741}
    ],
    "legendKeys": [
      {"source":"Dobchuk 2002"},
      {"source":"Current results"}
    ]
  },
  "vconcat": [
    {
      "width": 2145,
      "height": 1483,
      "layer": [
        {
          "data": {"name": "simA"},
          "mark": {"type": "line", "stroke": "black", "strokeWidth": 4, "strokeDash": [20, 24], "strokeCap": "butt"},
          "encoding": {
            "x": {"field": "day", "type": "quantitative", "scale": {"domain": [0, 280], "nice": false},
              "axis": {"values": [40, 80, 120, 160, 200, 240], "labels": false, "title": null, "tickSize": -48}},
            "y": {"field": "flux", "type": "quantitative", "scale": {"domain": [-800, 600], "nice": false, "zero": false},
              "axis": {"values": [-800, -600, -400, -200, 0, 200, 400, 600], "title": "Flux (mm)", "titleFontSize": 70,
                "titlePadding": 68, "tickSize": -50, "labelPadding": 79, "labelExpr": "'' + datum.value"}},
            "detail": {"field": "series", "type": "nominal"}
          }
        },
        {
          "data": {"name": "obsA"},
          "mark": {"type": "point", "shape": "circle", "filled": false, "color": "black", "opacity": 1, "strokeWidth": 3.5, "size": 740},
          "encoding": {
            "x": {"field": "day", "type": "quantitative"},
            "y": {"field": "flux", "type": "quantitative"}
          }
        },
        {
          "data": {"name": "labelsA"},
          "mark": {"type": "text", "font": "Liberation Sans", "fontWeight": "bold", "fontSize": 58, "align": "center", "baseline": "alphabetic", "color": "black"},
          "encoding": {
            "x": {"field": "day", "type": "quantitative"},
            "y": {"field": "flux", "type": "quantitative"},
            "text": {"field": "label", "type": "nominal"}
          }
        }
      ]
    },
    {
      "width": 2145,
      "height": 1488,
      "layer": [
        {
          "data": {"name": "simB"},
          "mark": {"type": "line", "stroke": "black", "strokeWidth": 4, "strokeDash": [20, 24], "strokeCap": "butt"},
          "encoding": {
            "x": {"field": "day", "type": "quantitative", "scale": {"domain": [0, 280], "nice": false},
              "axis": {"values": [0, 40, 80, 120, 160, 200, 240, 280], "title": "Time (days)", "titleFontSize": 59,
                "titlePadding": 18, "tickSize": -48, "labelPadding": 80, "labelExpr": "'' + datum.value"}},
            "y": {"field": "flux", "type": "quantitative", "scale": {"domain": [-800, 600], "nice": false, "zero": false},
              "axis": {"values": [-800, -600, -400, -200, 0, 200, 400, 600], "title": "Flux (mm)", "titleFontSize": 70,
                "titlePadding": 68, "tickSize": -50, "labelPadding": 79, "labelExpr": "'' + datum.value"}},
            "detail": {"field": "series", "type": "nominal"}
          }
        },
        {
          "data": {"name": "obsB"},
          "mark": {"type": "point", "shape": "circle", "filled": false, "color": "black", "opacity": 1, "strokeWidth": 3.5, "size": 740},
          "encoding": {
            "x": {"field": "day", "type": "quantitative"},
            "y": {"field": "flux", "type": "quantitative"}
          }
        },
        {
          "data": {"name": "labelsB"},
          "mark": {"type": "text", "font": "Liberation Sans", "fontWeight": "bold", "fontSize": 58, "align": "center", "baseline": "alphabetic", "color": "black"},
          "encoding": {
            "x": {"field": "day", "type": "quantitative"},
            "y": {"field": "flux", "type": "quantitative"},
            "text": {"field": "label", "type": "nominal"}
          }
        },
        {
          "data": {"name": "legendKeys"},
          "mark": {"type": "point", "filled": false, "color": "black", "opacity": 0, "strokeWidth": 3},
          "encoding": {
            "shape": {"field": "source", "type": "nominal",
              "scale": {"domain": ["Dobchuk 2002", "Current results"],
                "range": ["M-4.1,0A1,1,0,1,1,-6.1,0A1,1,0,1,1,-4.1,0ZM1,0A1,1,0,1,1,-1,0A1,1,0,1,1,1,0ZM6.1,0A1,1,0,1,1,4.1,0A1,1,0,1,1,6.1,0Z",
                          "M-5.7,0L-4.5,0M-3.3,0L-2.1,0M-0.9,0L0.3,0M1.5,0L2.7,0M3.9,0L5.1,0"]},
              "legend": {"orient": "none", "legendX": 205.5, "legendY": 2778, "title": null, "padding": 0,
                "symbolSize": 1600, "symbolStrokeWidth": 3, "symbolStrokeColor": "black", "symbolFillColor": "transparent", "symbolOpacity": 1,
                "labelFont": "Liberation Sans", "labelFontSize": 66, "labelFontWeight": "normal", "labelColor": "black",
                "labelOffset": 104.5, "rowPadding": 22, "labelLimit": 0}}
          }
        }
      ]
    }
  ]
}
